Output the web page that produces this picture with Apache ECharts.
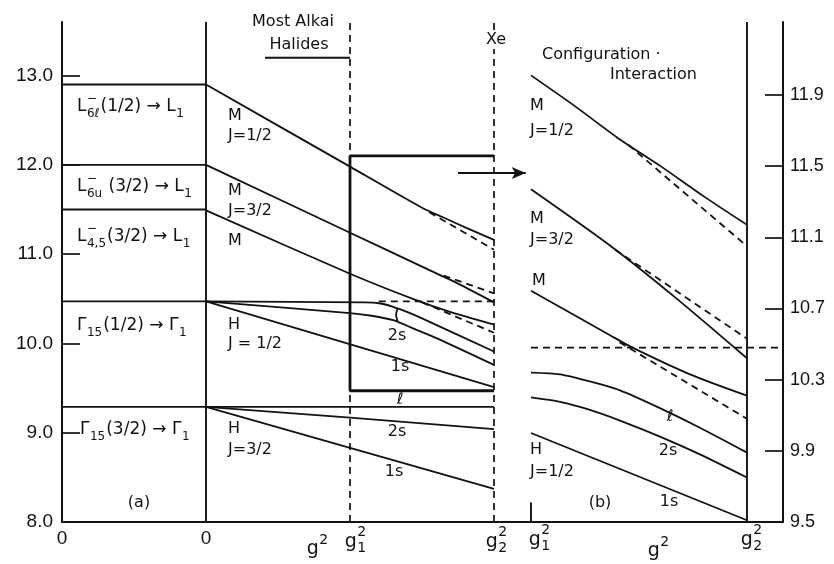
<!DOCTYPE html>
<html><head><meta charset="utf-8">
<script src="https://cdn.jsdelivr.net/npm/echarts@6/dist/echarts.min.js"></script>
<style>html,body{margin:0;padding:0;background:#fff}#c{width:834px;height:564px}</style>
</head><body><div id="c"></div>
<script>
// ---------------- DATA ----------------
// Panel (a): x in units of g1^2 (left reference column spans x=-1..0), y = energy (left axis)
const leftTicks = [8, 9, 10, 11, 12, 13];
const rightTicks = [9.5, 9.9, 10.3, 10.7, 11.1, 11.5, 11.9];

const levelL6l = [[-1, 12.9], [0, 12.9]];
const levelL6u = [[-1, 12.0], [0, 12.0]];
const levelL45 = [[-1, 11.5], [0, 11.5]];
const levelG15h = [[-1, 10.47], [0, 10.47]];
const levelG15t = [[-1, 9.29], [2, 9.29]];          // continues as the H J=3/2 "l" line

const aM12  = [[0, 12.9], [1, 11.98], [1.5, 11.52], [1.65, 11.41], [1.8, 11.3], [2, 11.16]];
const aM12d = [[1.55, 11.47], [2, 11.05]];
const aM32  = [[0, 12.0], [1, 11.24], [1.5, 10.86], [1.75, 10.67], [2, 10.46]];
const aM32d = [[1.65, 10.76], [2, 10.56]];
const aM    = [[0, 11.49], [1, 10.78], [1.45, 10.49], [1.7, 10.35], [2, 10.21]];
const aMd   = [[1.5, 10.46], [2, 10.12]];
const aHl   = [[0, 10.47], [1.1, 10.46], [1.2, 10.45], [1.3, 10.41], [1.4, 10.35], [1.5, 10.28], [2, 9.91]];
const aHref = [[1.2, 10.47], [2, 10.47]];
const aH2s  = [[0, 10.47], [1, 10.34], [1.15, 10.31], [1.3, 10.26], [1.45, 10.16], [1.6, 10.06], [2, 9.76]];
const aH1s  = [[0, 10.47], [2, 9.51]];
const aJ2s  = [[0, 9.29], [1, 9.17], [2, 9.04]];
const aJ1s  = [[0, 9.29], [1, 8.83], [2, 8.37]];
const aGap  = [[1.33, 10.39], [1.32, 10.32], [1.33, 10.25]];

const aVert0 = [[0, 8], [0, 13.6]];
const aVert1 = [[1, 8], [1, 13.6]];
const aVert2 = [[2, 8], [2, 13.6]];
const aBox   = [[2, 12.1], [1, 12.1], [1, 9.47], [2, 9.47]];
const aUnder = [[0.41, 13.2], [1, 13.2]];
const aArrow = [[1.75, 11.91], [2.22, 11.91]];

// Panel (b): x from g1^2 (=1) to g2^2 (=2), y = energy (right axis)
const bM12  = [[1, 12.01], [1.2, 11.84], [1.4, 11.66], [1.6, 11.5], [1.8, 11.33], [2, 11.17]];
const bM12d = [[1.45, 11.62], [2, 11.05]];
const bM32  = [[1, 11.37], [1.37, 11.05], [1.68, 10.75], [2, 10.42]];
const bM32d = [[1.39, 11.03], [2, 10.53]];
const bM    = [[1, 10.80], [1.366, 10.55], [1.47, 10.48], [1.736, 10.33], [2, 10.21]];
const bMd   = [[1.41, 10.51], [2, 10.08]];
const bRef  = [[1, 10.48], [2.1667, 10.48]];
const bL    = [[1, 10.34], [1.134, 10.33], [1.273, 10.29], [1.412, 10.24], [1.597, 10.14], [1.782, 10.03], [2, 9.89]];
const b2s   = [[1, 10.2], [1.134, 10.175], [1.273, 10.13], [1.412, 10.07], [1.597, 9.98], [1.782, 9.88], [2, 9.75]];
const b1s   = [[1, 10.0], [2, 9.51]];
const bVert2 = [[2, 9.5], [2, 12.31]];
const bTick1 = [[1, 9.5], [1, 9.61]];

// ---------------- CHART ----------------
const INK = '#111';
const NUMFONT = '"Liberation Sans", Arial, sans-serif';
const TXTFONT = '"DejaVu Sans", sans-serif';

function ln(g, data, o) {
  o = o || {};
  const s = {
    type: 'line', xAxisIndex: g, yAxisIndex: g, data: data, symbol: 'none',
    silent: true, animation: false, z: o.z || 5,
    lineStyle: { color: INK, width: o.w || 1.8, type: o.dash ? [7, 5] : 'solid', cap: 'butt' }
  };
  if (o.smooth) { s.smooth = 0.25; }
  return s;
}

const series = [
  ln(0, levelL6l), ln(0, levelL6u), ln(0, levelL45), ln(0, levelG15h), ln(0, levelG15t),
  ln(0, aVert0, {w: 1.9}), ln(0, aVert1, {dash: true, w: 1.7}), ln(0, aVert2, {dash: true, w: 1.7}),
  ln(0, aM12, {smooth: true}), ln(0, aM12d, {dash: true}),
  ln(0, aM32, {smooth: true}), ln(0, aM32d, {dash: true}),
  ln(0, aM, {smooth: true}), ln(0, aMd, {dash: true}),
  ln(0, aHl, {smooth: true}), ln(0, aHref, {dash: true}),
  ln(0, aH2s, {smooth: true}), ln(0, aH1s),
  ln(0, aJ2s), ln(0, aJ1s), ln(0, aGap, {smooth: true}),
  ln(0, aBox, {w: 2.8, z: 6}), ln(0, aUnder, {w: 2}),
  {
    type: 'line', xAxisIndex: 0, yAxisIndex: 0, silent: true, animation: false, z: 6,
    symbol: 'none', lineStyle: {color: INK, width: 2}, itemStyle: {color: INK},
    data: [aArrow[0], {value: aArrow[1], symbol: 'arrow', symbolSize: [9, 14], symbolRotate: -90}]
  },
  ln(1, bM12, {smooth: true}), ln(1, bM12d, {dash: true}),
  ln(1, bM32, {smooth: true}), ln(1, bM32d, {dash: true}),
  ln(1, bM, {smooth: true}), ln(1, bMd, {dash: true}),
  ln(1, bRef, {dash: true}),
  ln(1, bL, {smooth: true}), ln(1, b2s, {smooth: true}), ln(1, b1s),
  ln(1, bVert2, {w: 1.9}), ln(1, bTick1, {w: 1.9})
];

const axisLine = {show: true, onZero: false, lineStyle: {color: INK, width: 2}};
const option = {
  animation: false,
  backgroundColor: '#fff',
  grid: [
    {left: 62, top: 22, width: 469, height: 500},
    {left: 531, top: 22, width: 252, height: 500}
  ],
  xAxis: [
    {gridIndex: 0, type: 'value', min: -1, max: 2.2569, axisLine: axisLine,
     axisTick: {show: false}, axisLabel: {show: false}, splitLine: {show: false}},
    {gridIndex: 1, type: 'value', min: 1, max: 2.1667, axisLine: axisLine,
     axisTick: {show: false}, axisLabel: {show: false}, splitLine: {show: false}}
  ],
  yAxis: [
    {gridIndex: 0, type: 'value', min: 8, max: 13.6, position: 'left', axisLine: axisLine,
     axisTick: {show: true, inside: true, length: 18, customValues: leftTicks, lineStyle: {color: INK, width: 1.7}},
     axisLabel: {show: true, customValues: leftTicks, formatter: v => Number(v).toFixed(1), margin: 9,
                 color: INK, fontSize: 19, fontFamily: NUMFONT},
     splitLine: {show: false}},
    {gridIndex: 1, type: 'value', min: 9.5, max: 12.31, position: 'right', axisLine: axisLine,
     axisTick: {show: true, inside: true, length: 18, customValues: rightTicks, lineStyle: {color: INK, width: 1.7}},
     axisLabel: {show: true, customValues: rightTicks, formatter: v => Number(v).toFixed(1), margin: 7,
                 color: INK, fontSize: 18, fontFamily: NUMFONT},
     splitLine: {show: false}}
  ],
  series: series
};

// ---------- text annotations (stacked sub/superscripts) ----------
const mctx = document.createElement('canvas').getContext('2d');
function tw(t, size, fam) { mctx.font = size + 'px ' + fam; return mctx.measureText(t).width; }
function label(runs, x, cy, size, align, opt) {
  opt = opt || {};
  const fam = opt.font || TXTFONT;
  const sc = opt.scale || 0.68;
  const items = [];
  let cx = 0;
  runs.forEach(r => {
    if (typeof r === 'string') {
      items.push({t: r, x: cx, dy: 0, s: size});
      cx += tw(r, size, fam);
    } else {
      const s2 = Math.round(size * sc);
      let w = 0;
      if (r.sup) { items.push({t: r.sup, x: cx + 0.5, dy: -(opt.supOff || 0.45) * size, s: s2}); w = Math.max(w, tw(r.sup, s2, fam)); }
      if (r.sub) { items.push({t: r.sub, x: cx + 0.5, dy: (opt.subOff || 0.42) * size, s: s2}); w = Math.max(w, tw(r.sub, s2, fam)); }
      cx += w + 1.5;
    }
  });
  const x0 = align === 'center' ? x - cx / 2 : (align === 'right' ? x - cx : x);
  return items.map(it => ({
    type: 'text', x: x0 + it.x, y: cy + it.dy, z: 100, silent: true,
    style: {text: it.t, font: it.s + 'px ' + fam, fill: INK, align: 'left', verticalAlign: 'middle',
            backgroundColor: opt.bg || null, padding: opt.bg ? [1, 1] : 0}
  }));
}

let g = [];
const S = 17;
// left column transitions
g = g.concat(label(['L', {sup: '−', sub: '6ℓ'}, '(1/2) → L', {sub: '1'}], 77, 107, S, 'left'));
g = g.concat(label(['L', {sup: '−', sub: '6u'}, ' (3/2) → L', {sub: '1'}], 77, 187, S, 'left'));
g = g.concat(label(['L', {sup: '−', sub: '4,5'}, '(3/2) → L', {sub: '1'}], 77, 237, S, 'left'));
g = g.concat(label(['Γ', {sub: '15'}, '(1/2) → Γ', {sub: '1'}], 77, 326, S, 'left'));
g = g.concat(label(['Γ', {sub: '15'}, '(3/2) → Γ', {sub: '1'}], 80, 430, S, 'left'));
// middle
const M = 16;
[['M', 228, 116], ['J=1/2', 228, 136], ['M', 228, 191], ['J=3/2', 228, 211], ['M', 228, 241],
 ['H', 228, 325], ['J = 1/2', 228, 344], ['H', 228, 429], ['J=3/2', 228, 450]].forEach(a => {
  g = g.concat(label([a[0]], a[1], a[2], M, 'left'));
});
[['2s', 397, 336], ['1s', 400, 367], ['ℓ', 400, 400], ['2s', 397, 432], ['1s', 394, 472], ['(a)', 139, 503],
 ['ℓ', 670, 417], ['2s', 668, 451], ['1s', 669, 502], ['(b)', 600, 503]].forEach(a => {
  g = g.concat(label([a[0]], a[1], a[2], M, 'center'));
});
[['M', 530, 106], ['J=1/2', 530, 131], ['M', 530, 219], ['J=3/2', 530, 240], ['M', 532, 281],
 ['H', 530, 450], ['J=1/2', 530, 472]].forEach(a => {
  g = g.concat(label([a[0]], a[1], a[2], M, 'left'));
});
// top captions
g = g.concat(label(['Most Alkai'], 293, 22, M, 'center'));
g = g.concat(label(['Halides'], 299, 45, M, 'center'));
g = g.concat(label(['Xe'], 495, 40, M, 'center', {bg: '#fff'}));
g = g.concat(label(['Configuration ·'], 542, 55, M, 'left'));
g = g.concat(label(['Interaction'], 610, 75, M, 'left'));
// bottom axis captions
g = g.concat(label(['0'], 62, 539, 19, 'center', {font: NUMFONT}));
g = g.concat(label(['0'], 206, 539, 19, 'center', {font: NUMFONT}));
g = g.concat(label(['g', {sup: '2'}], 318, 549, 19, 'center', {scale: 0.75}));
g = g.concat(label(['g', {sup: '2', sub: '1'}], 356, 542, 19, 'center', {scale: 0.75, supOff: 0.5, subOff: 0.35}));
g = g.concat(label(['g', {sup: '2', sub: '2'}], 497, 542, 19, 'center', {scale: 0.75, supOff: 0.5, subOff: 0.35}));
g = g.concat(label(['g', {sup: '2', sub: '1'}], 540, 540, 19, 'center', {scale: 0.75, supOff: 0.5, subOff: 0.35}));
g = g.concat(label(['g', {sup: '2'}], 659, 551, 19, 'center', {scale: 0.75}));
g = g.concat(label(['g', {sup: '2', sub: '2'}], 752, 540, 19, 'center', {scale: 0.75, supOff: 0.5, subOff: 0.35}));

option.graphic = {elements: g};

const chart = echarts.init(document.getElementById('c'), null, {renderer: 'canvas'});
chart.setOption(option);
</script>
</body></html>
